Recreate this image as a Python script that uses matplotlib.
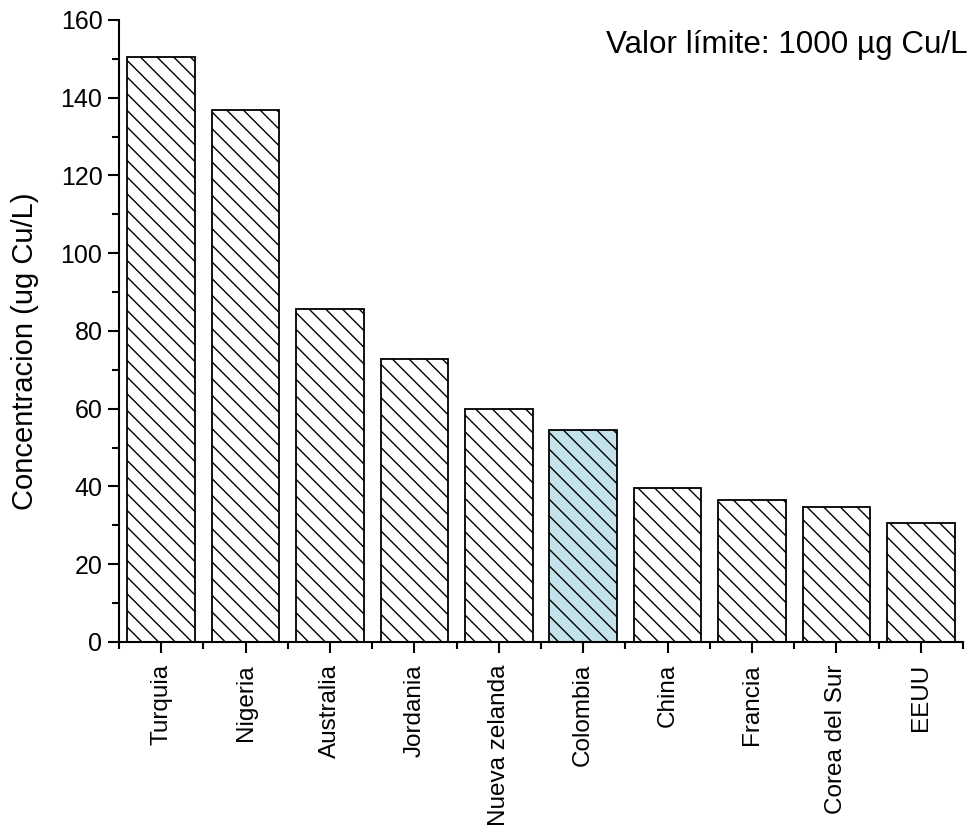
import matplotlib.pyplot as plt
import numpy as np
from matplotlib.ticker import MultipleLocator, FixedLocator

# data
paises = ["Turquia", "Nigeria", "Australia", "Jordania", "Nueva zelanda",
          "Colombia", "China", "Francia", "Corea del Sur", "EEUU"]
concentracion = [150.6, 136.8, 85.6, 72.8, 59.8, 54.6, 39.7, 36.5, 34.6, 30.6]
destacado = "Colombia"

plt.rcParams["font.family"] = ["Liberation Sans", "DejaVu Sans"]
plt.rcParams["hatch.linewidth"] = 1.0

fig = plt.figure(figsize=(9.71, 8.32), dpi=100)
ax = fig.add_axes([0.1226, 0.2284, 0.8692, 0.7476])

x = np.arange(len(paises))
colores = ["#c4e2ea" if p == destacado else "white" for p in paises]
ax.bar(x, concentracion, width=0.8, color=colores, edgecolor="black",
       linewidth=1.3, hatch="\\\\", zorder=2)

ax.set_xlim(-0.5, len(paises) - 0.5)
ax.set_ylim(0, 160)
ax.set_xticks(x)
ax.set_xticklabels(paises, rotation=90, fontsize=17.5)
ax.xaxis.set_minor_locator(FixedLocator(np.arange(-0.5, len(paises), 1.0)))
ax.yaxis.set_major_locator(MultipleLocator(20))
ax.yaxis.set_minor_locator(MultipleLocator(10))
ax.tick_params(axis="y", labelsize=18, pad=4)
ax.tick_params(axis="x", pad=8)
ax.tick_params(which="major", direction="out", length=8, width=1.5)
ax.tick_params(which="minor", direction="out", length=5, width=1.5)

for s in ["top", "right"]:
    ax.spines[s].set_visible(False)
for s in ["left", "bottom"]:
    ax.spines[s].set_linewidth(1.5)

ax.set_ylabel("Concentracion (ug Cu/L)", fontsize=21)
ax.yaxis.set_label_coords(-0.095, 0.467)

fig.text(0.997, 1 - 45 / 832, "Valor límite: 1000 µg Cu/L", fontsize=22.6,
         ha="right", va="center")

fig.savefig("out.png", dpi=100)
